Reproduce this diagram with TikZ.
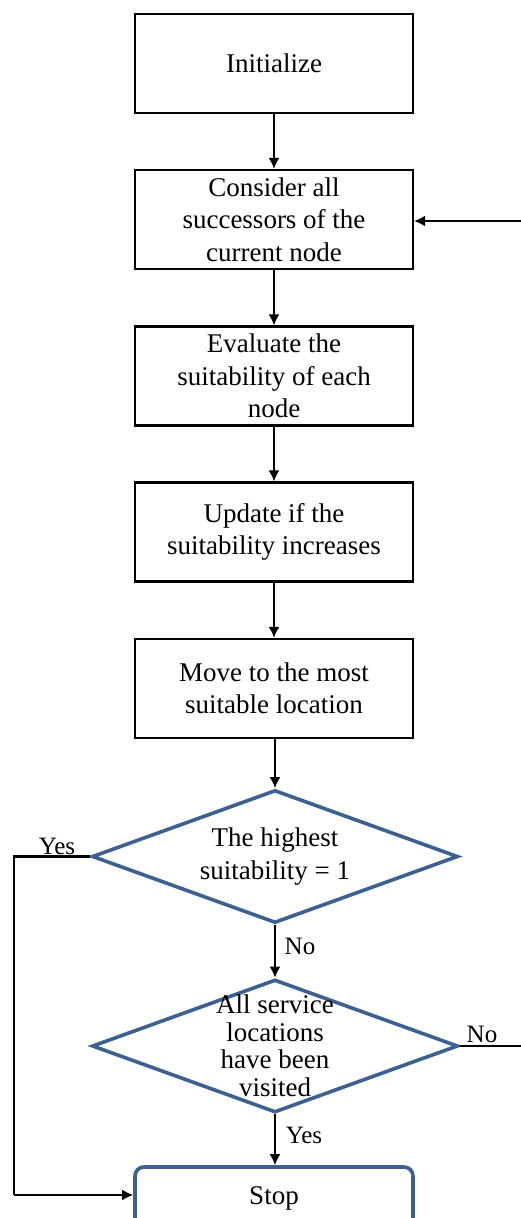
\documentclass[tikz,border=0pt]{standalone}
\usepackage{fontspec}
\setmainfont{Liberation Serif}
\usetikzlibrary{shapes.geometric,arrows.meta}
\definecolor{dblue}{RGB}{60,96,145}
\begin{document}
\begin{tikzpicture}[x=1pt,y=-1pt,
  every node/.style={font=\fontsize{27}{32.5}\selectfont},
  procbox/.style={draw=black,line width=2.1pt,minimum width=278pt,minimum height=99pt,inner sep=0pt,align=center},
  dia/.style={draw=dblue,line width=3.6pt,shape=diamond,minimum width=366pt,minimum height=133pt,inner sep=0pt},
  stopbox/.style={draw=dblue,line width=3.6pt,rounded corners=9pt,minimum width=278pt,minimum height=62pt,inner sep=0pt},
  arr/.style={draw=black,line width=2.5pt,-{Latex[length=11pt,width=11pt]}},
  ln/.style={draw=black,line width=2.5pt},
  lbl/.style={inner sep=0pt,font=\fontsize{25}{28}\selectfont}
]
\useasboundingbox (0,0) rectangle (521,1218);
\clip (0,0) rectangle (521,1218);
\node[procbox] (init) at (274,63.5) {Initialize};
\node[procbox] (cons) at (274,219.5) {Consider all\\successors of the\\current node};
\node[procbox] (eval) at (274,376) {Evaluate the\\suitability of each\\node};
\node[procbox] (upd) at (274,532) {Update if the\\suitability increases};
\node[procbox] (move) at (274,688.5) {Move to the most\\suitable location};
\node[dia] (d1) at (275,856.5) {};
\node[align=center] (d1t) at (d1) {The highest\\suitability = 1};
\node[dia] (d2) at (275,1046) {};
\node[align=center,font=\fontsize{27}{27.5}\selectfont] (d2t) at (d2) {All service\\locations\\have been\\visited};
\node[stopbox] (stop) at (274,1198) {Stop};

\draw[arr] (init) -- (cons);
\draw[arr] (cons) -- (eval);
\draw[arr] (eval) -- (upd);
\draw[arr] (upd) -- (move);
\draw[arr] (move.south -| d1.north) -- (d1.north);
\draw[arr] (d1.south) -- (d2.north);
\draw[arr] (d2.south) -- (stop.north -| d2.south);

\coordinate (lc1) at (14,856.5);
\coordinate (lc2) at (14,1195);
\draw[ln] (d1.west) -- (lc1) -- (lc2);
\draw[arr] (lc2) -- (stop.west |- lc2);

\coordinate (rc1) at (540,1046);
\coordinate (rc2) at (540,221);
\draw[ln] (d2.east) -- (rc1) -- (rc2);
\draw[arr] (rc2) -- (cons.east |- rc2);

\node[lbl] (yes1) at (57,846) {Yes};
\node[lbl] (no1) at (300,946) {No};
\node[lbl] (yes2) at (304,1135) {Yes};
\node[lbl] (no2) at (482,1034) {No};
\end{tikzpicture}
\end{document}
